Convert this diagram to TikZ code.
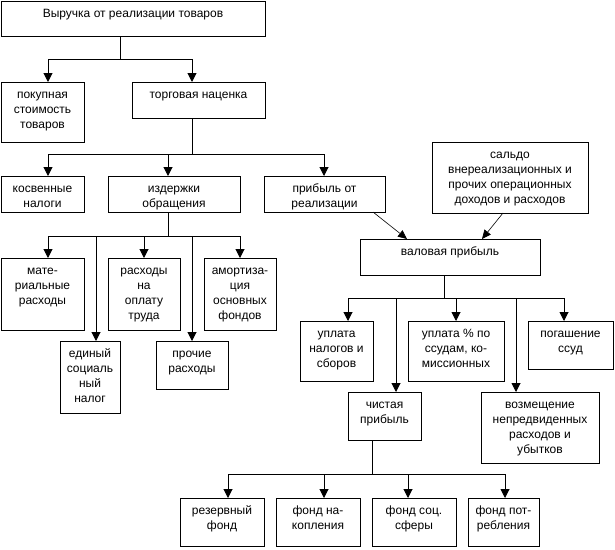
\documentclass[tikz,border=0pt]{standalone}
\usepackage{fontspec}
\setmainfont{Liberation Sans}
\usetikzlibrary{arrows.meta}
\tikzset{
  boxst/.style={draw, line width=1pt, inner sep=0pt, outer sep=0pt, rectangle},
  txtst/.style={inner sep=0pt, align=center, font=\fontsize{12}{15}\selectfont},
  conn/.style={line width=1pt, line cap=rect},
  arr/.style={line width=1pt, -{Triangle[width=9pt,length=9pt]}},
  darr/.style={line width=0.6pt, -{Triangle[width=8pt,length=9pt]}},
}
\newcommand\mybox[6]{%
  \node[boxst, anchor=north west, minimum width={(#4)-(#2)}, minimum height={(#5)-(#3)}] (#1) at (#2,#3) {};
  \node[txtst, anchor=north] (#1-t) at ([yshift=-5.5pt]#1.north) {\strut #6};}
\begin{document}
\begin{tikzpicture}[x=1pt,y=-1pt]
\useasboundingbox (0,0) rectangle (615,549);
\mybox{top}{1}{1}{265}{36}{Выручка от реализации товаров}
\mybox{pok}{1}{82}{84}{142}{покупная\\стоимость\\товаров}
\mybox{torg}{132}{82}{265}{118}{торговая наценка}
\mybox{kos}{1}{176}{84}{212}{косвенные\\налоги}
\mybox{izd}{108}{176}{240}{212}{издержки\\обращения}
\mybox{prib}{264}{176}{385}{212}{прибыль от\\реализации}
\mybox{saldo}{432}{142}{588}{213}{сальдо\\внереализационных и\\прочих операционных\\доходов и расходов}
\mybox{val}{360}{239}{540}{275}{валовая прибыль}
\mybox{mat}{1}{258}{84}{330}{мате-\\риальные\\расходы}
\mybox{opl}{108}{258}{180}{330}{расходы\\на\\оплату\\труда}
\mybox{amo}{204}{258}{276}{330}{амортиза-\\ция\\основных\\фондов}
\mybox{esn}{60}{341}{120}{413}{единый\\социаль\\ный\\налог}
\mybox{pro}{156}{341}{228}{389}{прочие\\расходы}
\mybox{upn}{300}{321}{373}{381}{уплата\\налогов и\\сборов}
\mybox{ups}{408}{321}{504}{381}{уплата \% по\\ссудам, ко-\\миссионных}
\mybox{pog}{528}{321}{613}{369}{погашение\\ссуд}
\mybox{chp}{348}{392}{421}{440}{чистая\\прибыль}
\mybox{voz}{481}{392}{599}{463}{возмещение\\непредвиденных\\расходов и\\убытков}
\mybox{rez}{180}{498}{264}{546}{резервный\\фонд}
\mybox{nak}{276}{498}{360}{546}{фонд на-\\копления}
\mybox{soc}{372}{498}{456}{546}{фонд соц.\\сферы}
\mybox{pot}{468}{498}{539}{546}{фонд пот-\\ребления}
% tree 1
\coordinate (s1) at (120,59);
\coordinate (b1a) at (48,59);
\coordinate (b1b) at (192,59);
\draw[conn] (top.south -| s1) -- (s1);
\draw[conn] (b1a) -- (b1b);
\foreach \x/\n in {48/pok,192/torg}{\coordinate (t) at (\x,59); \draw[arr] (t) -- (t |- \n.north);}
% tree 2
\coordinate (s2) at (192,154);
\coordinate (b2a) at (48,154);
\coordinate (b2b) at (324,154);
\draw[conn] (torg.south -| s2) -- (s2);
\draw[conn] (b2a) -- (b2b);
\foreach \x/\n in {48/kos,168/izd,324/prib}{\coordinate (t) at (\x,154); \draw[arr] (t) -- (t |- \n.north);}
% tree 3
\coordinate (s3) at (168,236);
\coordinate (b3a) at (48,236);
\coordinate (b3b) at (240,236);
\draw[conn] (izd.south -| s3) -- (s3);
\draw[conn] (b3a) -- (b3b);
\foreach \x/\n in {48/mat,144/opl,240/amo,96/esn,192/pro}{\coordinate (t) at (\x,236); \draw[arr] (t) -- (t |- \n.north);}
% diagonal arrows into gross profit
\draw[darr] ([xshift=48.5pt]prib.south) -- ([xshift=-43pt]val.north);
\draw[darr] ([xshift=-7pt]saldo.south) -- ([xshift=32pt]val.north);
% tree 4
\coordinate (s4) at (444,298);
\coordinate (b4a) at (348,298);
\coordinate (b4b) at (564,298);
\draw[conn] (val.south -| s4) -- (s4);
\draw[conn] (b4a) -- (b4b);
\foreach \x/\n in {348/upn,456/ups,564/pog,396/chp,516/voz}{\coordinate (t) at (\x,298); \draw[arr] (t) -- (t |- \n.north);}
% tree 5
\coordinate (s5) at (372,474);
\coordinate (b5a) at (228,474);
\coordinate (b5b) at (505,474);
\draw[conn] (chp.south -| s5) -- (s5);
\draw[conn] (b5a) -- (b5b);
\foreach \x/\n in {228/rez,324/nak,408/soc,505/pot}{\coordinate (t) at (\x,474); \draw[arr] (t) -- (t |- \n.north);}
\end{tikzpicture}
\end{document}
